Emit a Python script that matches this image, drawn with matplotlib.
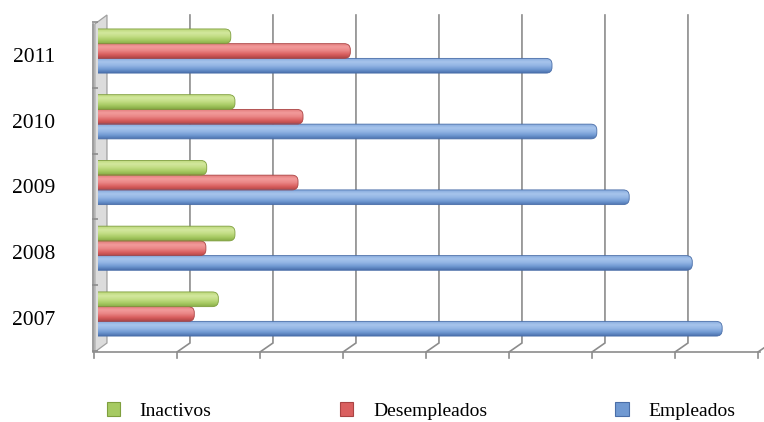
import numpy as np
import matplotlib.pyplot as plt
from matplotlib.patches import FancyBboxPatch, Polygon, Patch
from matplotlib.colors import LinearSegmentedColormap

plt.rcParams['font.family'] = ['Liberation Serif', 'DejaVu Serif']

anios = ['2007', '2008', '2009', '2010', '2011']
inactivos = [1.45, 1.65, 1.31, 1.65, 1.60]
desempleados = [1.16, 1.30, 2.41, 2.47, 3.04]
empleados = [7.52, 7.16, 6.40, 6.01, 5.47]

# colour stops for the cylinder look, bottom -> top
tonos = {
    'Inactivos': ['#86aa44', '#a6ca62', '#c2dd84', '#d3e89e', '#bcd87a'],
    'Desempleados': ['#b24545', '#da6060', '#ea8686', '#f29b9b', '#e27a7a'],
    'Empleados': ['#4a70ad', '#7099d2', '#93b5e4', '#a7c5ec', '#86aadd'],
}
bordes = {'Inactivos': '#7f9f3e', 'Desempleados': '#aa4444', 'Empleados': '#4a6ea8'}

fig = plt.figure(figsize=(7.64, 4.22), dpi=100)
ax = fig.add_axes([98 / 764, 70 / 422, 664 / 764, 337 / 422])

y = np.arange(len(anios))
alto = 0.224
series = [('Empleados', empleados, -alto), ('Desempleados', desempleados, 0.0),
          ('Inactivos', inactivos, alto)]

gris = '#8c8c8c'
y0, y1 = -0.578, 4.548
fondo_dx = 0.108   # back wall offset of the grid
frente_dx = -0.048  # front edge offset
dy_fondo = 9 / 65.75

# back gridlines with the floor diagonal down to the front ticks
for k in range(1, 9):
    xb, xf = k + fondo_dx, k + frente_dx
    ax.plot([xb, xb, xf, xf], [y1, y0 + dy_fondo, y0, y0 - 6 / 65.75],
            color=gris, lw=1.2, zorder=1, clip_on=False, solid_joinstyle='miter')
# front floor edge
ax.plot([frente_dx, 7.98], [y0, y0], color=gris, lw=1.2, zorder=1, clip_on=False)
ax.plot([frente_dx, frente_dx], [y0, y0 - 6 / 65.75], color=gris, lw=1.2,
        zorder=1, clip_on=False)

# left wall
muro = Polygon([(frente_dx + 0.01, y0), (fondo_dx, y0 + dy_fondo), (fondo_dx, y1),
                (frente_dx + 0.01, y1 - dy_fondo)], closed=True,
               facecolor='#dcdcdc', edgecolor='#a0a0a0', lw=0.9, zorder=1,
               clip_on=False)
ax.add_patch(muro)
ax.plot([-0.06, -0.06], [y0, y1 - dy_fondo], color=gris, lw=1.2, zorder=1,
        clip_on=False)

r = 0.072
asp = 83 / 65.75
for nombre, vals, off in series:
    barras = ax.barh(y + off, vals, height=alto, color=tonos[nombre][2],
                     edgecolor='none', label=nombre, zorder=0)
    cmap = LinearSegmentedColormap.from_list(nombre, tonos[nombre])
    grad = np.linspace(0, 1, 64).reshape(-1, 1)
    for b in barras:
        b.set_visible(False)
        bx, by, bw, bh = b.get_x(), b.get_y(), b.get_width(), b.get_height()
        caja = FancyBboxPatch((bx - r, by), bw + r, bh,
                              boxstyle=f'round,pad=0,rounding_size={r}',
                              mutation_aspect=asp, facecolor='none',
                              edgecolor=bordes[nombre], lw=0.6, zorder=3)
        ax.add_patch(caja)
        img = ax.imshow(grad, cmap=cmap, origin='lower', aspect='auto',
                        extent=(bx - r, bx + bw, by, by + bh), zorder=2,
                        interpolation='bilinear')
        img.set_clip_path(caja)

ax.set_xlim(0, 8)
ax.set_ylim(y0, y1)
ax.set_xticks([])
ax.set_yticks(y - 0.06, anios, fontsize=15.5)
ax.set_yticks(np.arange(6) - 0.56, minor=True)
ax.tick_params(axis='y', which='major', length=0, pad=31)
ax.tick_params(axis='y', which='minor', length=4, width=1.2, color=gris)
for s in ax.spines.values():
    s.set_visible(False)

nombres_leyenda = ['Inactivos', 'Desempleados', 'Empleados']
leg_h = [Patch(facecolor=tonos[n][1], edgecolor=bordes[n], lw=0.8)
         for n in nombres_leyenda]
fig.legend(leg_h, nombres_leyenda, loc='center',
           bbox_to_anchor=(0.5 + 39 / 764, 1 - 411 / 422), ncol=3, frameon=False,
           fontsize=14, handlelength=0.7, handleheight=0.7,
           handletextpad=1.0, columnspacing=6.6)

fig.savefig('out.png', dpi=100)
